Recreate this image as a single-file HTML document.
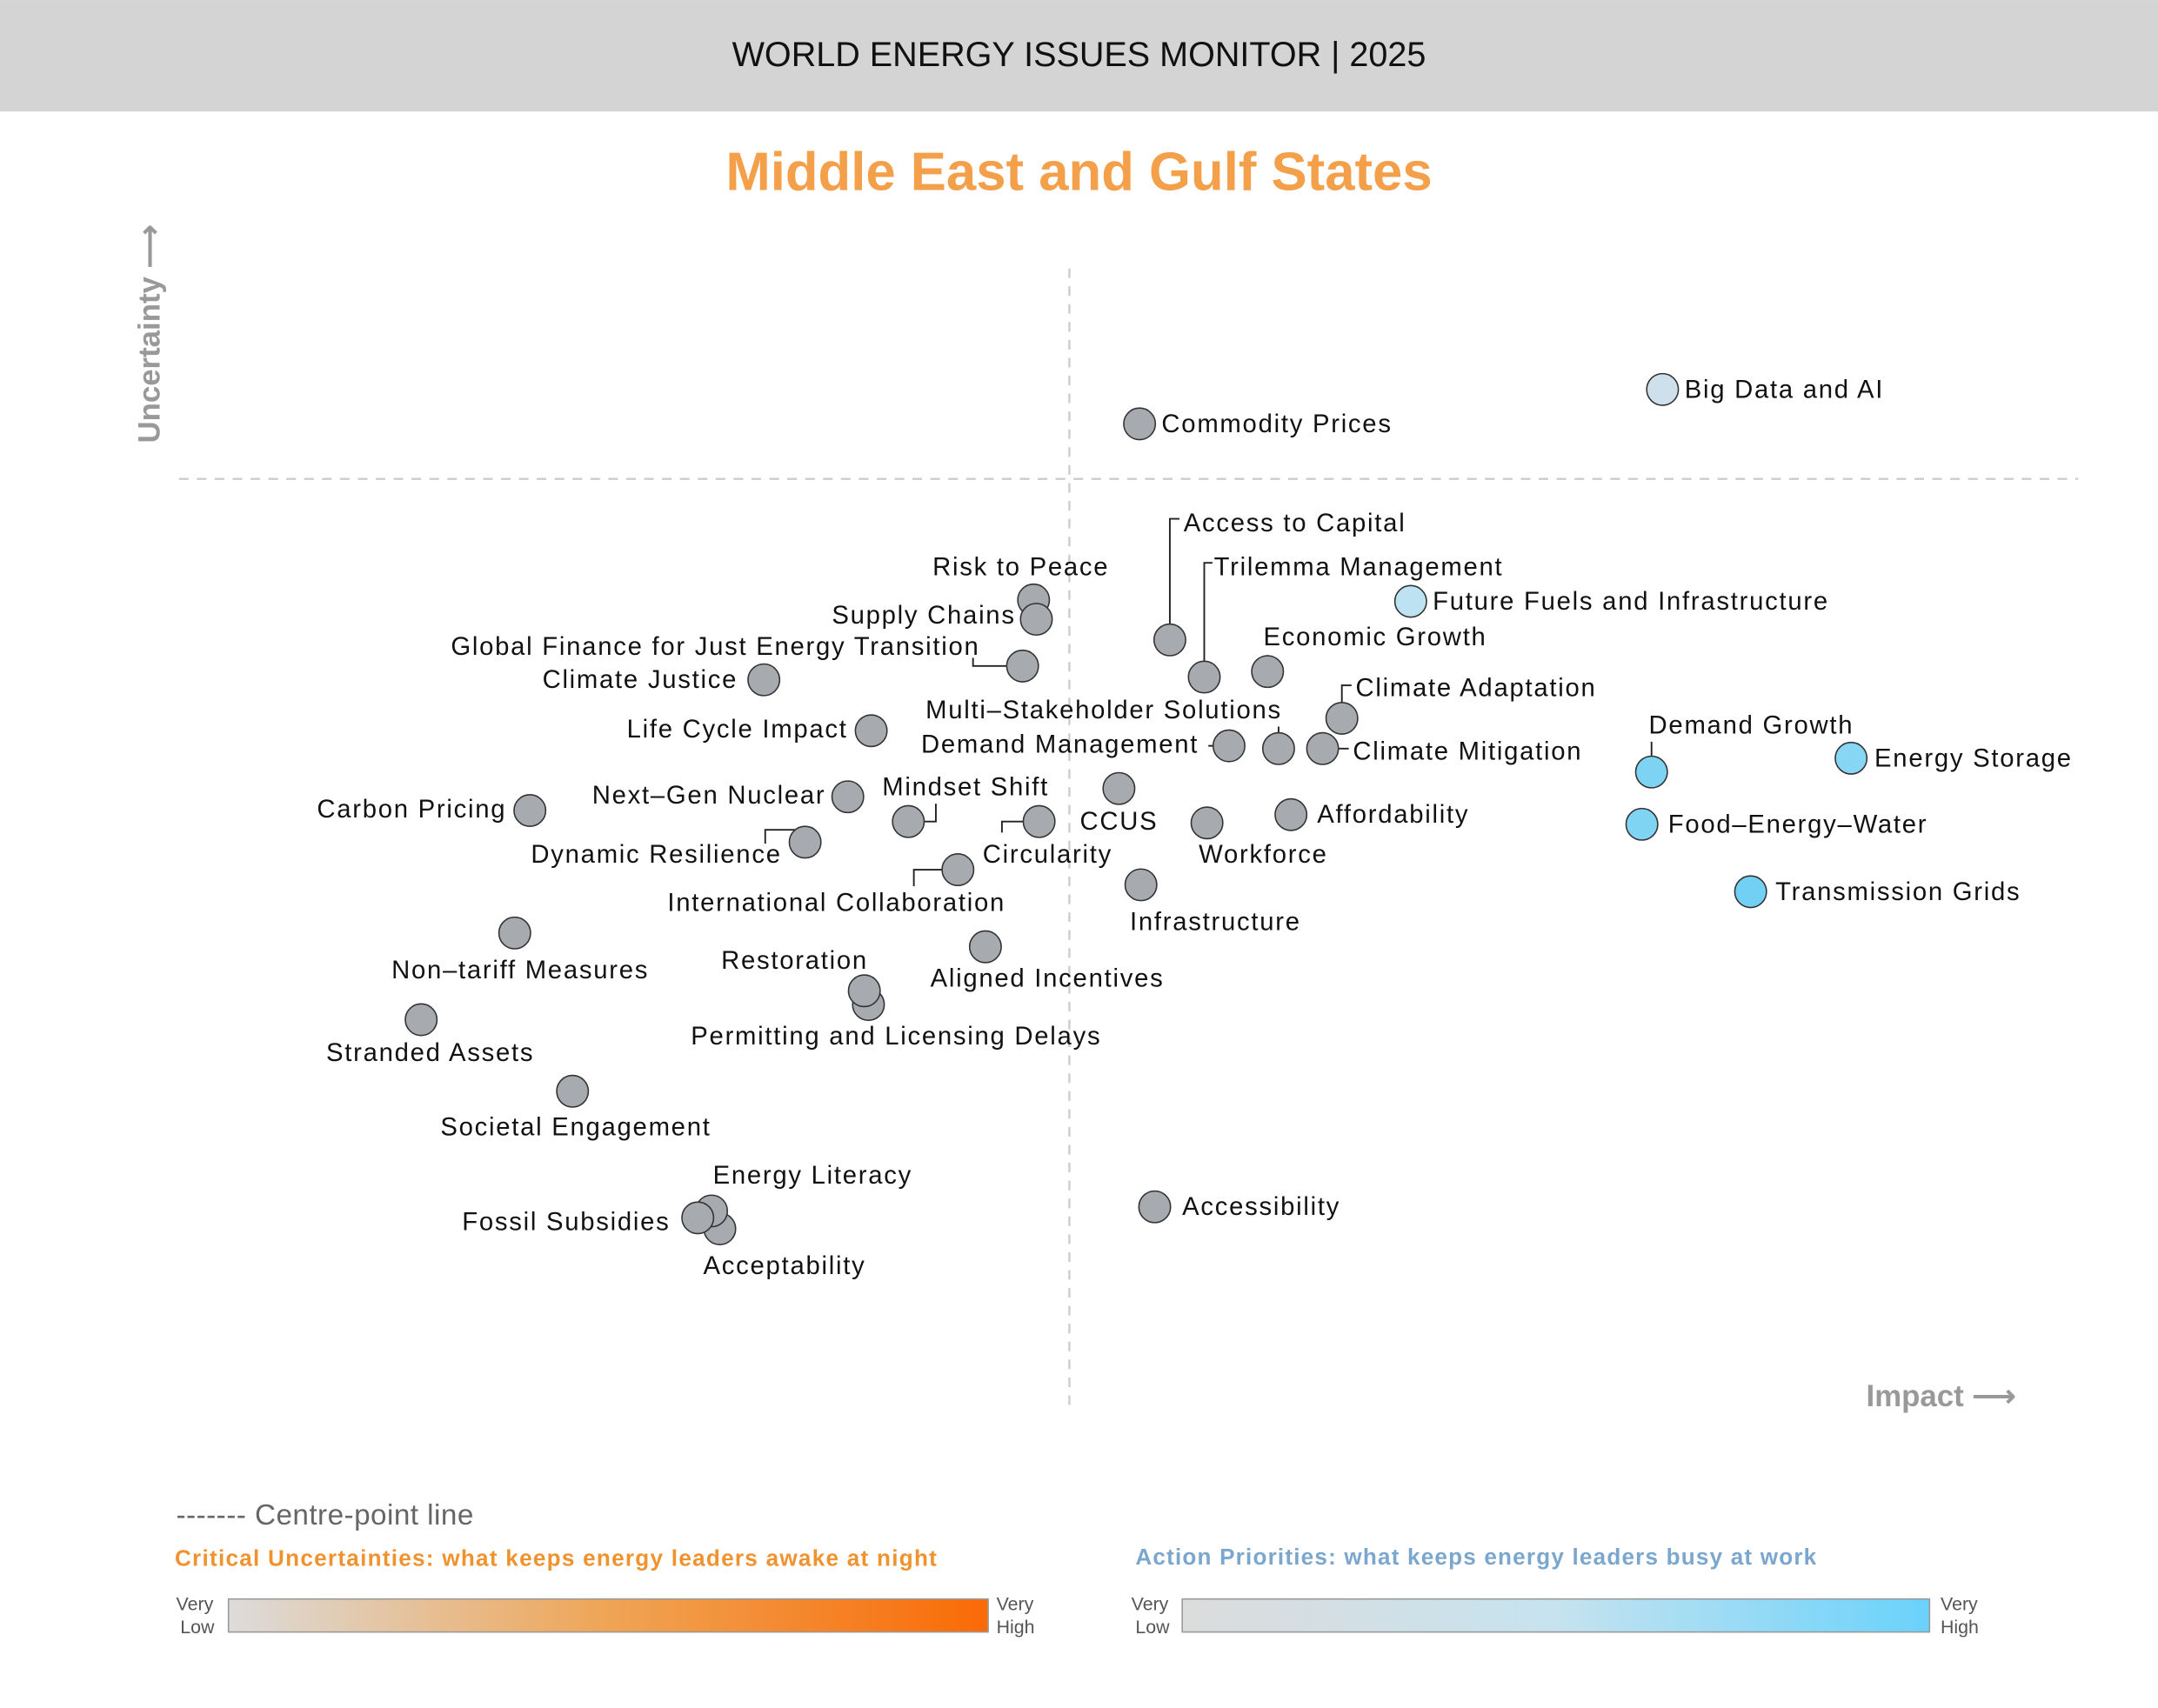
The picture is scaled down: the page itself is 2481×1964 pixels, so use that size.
<!DOCTYPE html>
<html><head><meta charset="utf-8"><style>
html,body{margin:0;padding:0;background:#fff;}
svg{display:block;}
text{font-family:"Liberation Sans",sans-serif;}
.l{font-size:18.5px;fill:#111;letter-spacing:1.1px;}
.c{stroke:#333;stroke-width:1;fill:#a7abaf;}
.ln{stroke:#222;stroke-width:1.2;fill:none;}
</style></head><body>
<svg width="2481" height="1964" viewBox="0 0 1568 1241.2" xmlns="http://www.w3.org/2000/svg">
<defs>
<linearGradient id="go" x1="0" x2="1"><stop offset="0" stop-color="#dcdcdc"/><stop offset="0.5" stop-color="#efa555"/><stop offset="1" stop-color="#fa6a06"/></linearGradient>
<linearGradient id="gb" x1="0" x2="1"><stop offset="0" stop-color="#dcdcdc"/><stop offset="0.5" stop-color="#c6e3ef"/><stop offset="1" stop-color="#6ad2fb"/></linearGradient>
</defs>
<rect x="0" y="0" width="1568" height="81" fill="#d4d4d4"/>
<text x="784" y="48" text-anchor="middle" font-size="25" fill="#111">WORLD ENERGY ISSUES MONITOR | 2025</text>
<text x="784" y="138" text-anchor="middle" font-size="39" font-weight="bold" fill="#f4a04b">Middle East and Gulf States</text>
<line x1="777" y1="195" x2="777" y2="1025" stroke="#ccc" stroke-width="1.5" stroke-dasharray="7,6"/>
<line x1="130" y1="348" x2="1510" y2="348" stroke="#ccc" stroke-width="1.5" stroke-dasharray="7,6"/>
<text transform="translate(116,322) rotate(-90)" font-size="22" font-weight="bold" fill="#999">Uncertainty ⟶</text>
<text x="1356" y="1022" font-size="22" font-weight="bold" fill="#999">Impact ⟶</text>

<path class="ln" d="M850,465 V377 H857"/>
<path class="ln" d="M875,492 V409 H881"/>
<path class="ln" d="M921,488 V476"/>
<path class="ln" d="M975,522 V498 H982"/>
<path class="ln" d="M961,544 H980"/>
<path class="ln" d="M929,544 V528"/>
<path class="ln" d="M893,542 H878"/>
<path class="ln" d="M1200,561 V539"/>
<path class="ln" d="M743,484 H707 V478"/>
<path class="ln" d="M660,597 H680 V584"/>
<path class="ln" d="M755,597 H728 V605"/>
<path class="ln" d="M585,603 H556 V613"/>
<path class="ln" d="M696,632 H664 V644"/>

<circle class="c" cx="1208" cy="283" r="11.5" style="fill:#cde0ec"/>
<circle class="c" cx="828" cy="308" r="11.5"/>
<circle class="c" cx="1025" cy="437" r="11.5" style="fill:#bde2f1"/>
<circle class="c" cx="850" cy="465" r="11.5"/>
<circle class="c" cx="875" cy="492" r="11.5"/>
<circle class="c" cx="921" cy="488" r="11.5"/>
<circle class="c" cx="975" cy="522" r="11.5"/>
<circle class="c" cx="961" cy="544" r="11.5"/>
<circle class="c" cx="929" cy="544" r="11.5"/>
<circle class="c" cx="893" cy="542" r="11.5"/>
<circle class="c" cx="1200" cy="561" r="11.5" style="fill:#7dd3f2"/>
<circle class="c" cx="1345" cy="551" r="11.5" style="fill:#86d6f4"/>
<circle class="c" cx="1193" cy="599" r="11.5" style="fill:#7fd4f3"/>
<circle class="c" cx="1272" cy="648" r="11.5" style="fill:#72d0f4"/>
<circle class="c" cx="751" cy="436" r="11.5"/>
<circle class="c" cx="753" cy="450" r="11.5"/>
<circle class="c" cx="743" cy="484" r="11.5"/>
<circle class="c" cx="555" cy="494" r="11.5"/>
<circle class="c" cx="633" cy="531" r="11.5"/>
<circle class="c" cx="385" cy="589" r="11.5"/>
<circle class="c" cx="616" cy="579" r="11.5"/>
<circle class="c" cx="660" cy="597" r="11.5"/>
<circle class="c" cx="813" cy="573" r="11.5"/>
<circle class="c" cx="755" cy="597" r="11.5"/>
<circle class="c" cx="877" cy="598" r="11.5"/>
<circle class="c" cx="938" cy="592" r="11.5"/>
<circle class="c" cx="585" cy="612" r="11.5"/>
<circle class="c" cx="696" cy="632" r="11.5"/>
<circle class="c" cx="829" cy="643" r="11.5"/>
<circle class="c" cx="374" cy="678" r="11.5"/>
<circle class="c" cx="716" cy="688" r="11.5"/>
<circle class="c" cx="631" cy="730" r="11.5"/>
<circle class="c" cx="628" cy="720" r="11.5"/>
<circle class="c" cx="306" cy="741" r="11.5"/>
<circle class="c" cx="416" cy="793" r="11.5"/>
<circle class="c" cx="523" cy="893" r="11.5"/>
<circle class="c" cx="517" cy="880" r="11.5"/>
<circle class="c" cx="507" cy="885" r="11.5"/>
<circle class="c" cx="839" cy="877" r="11.5"/>

<g>
<text class="l" x="1224" y="289">Big Data and AI</text>
<text class="l" x="844" y="314">Commodity Prices</text>
<text class="l" x="1041" y="443">Future Fuels and Infrastructure</text>
<text class="l" x="860" y="386">Access to Capital</text>
<text class="l" x="882" y="418">Trilemma Management</text>
<text class="l" x="918" y="469">Economic Growth</text>
<text class="l" x="985" y="506">Climate Adaptation</text>
<text class="l" x="983" y="552">Climate Mitigation</text>
<text class="l" x="802" y="522" text-anchor="middle">Multi–Stakeholder Solutions</text>
<text class="l" x="871" y="547" text-anchor="end">Demand Management</text>
<text class="l" x="1198" y="533">Demand Growth</text>
<text class="l" x="1362" y="557">Energy Storage</text>
<text class="l" x="1212" y="605">Food–Energy–Water</text>
<text class="l" x="1290" y="654">Transmission Grids</text>
<text class="l" x="806" y="418" text-anchor="end">Risk to Peace</text>
<text class="l" x="738" y="453" text-anchor="end">Supply Chains</text>
<text class="l" x="712" y="476" text-anchor="end">Global Finance for Just Energy Transition</text>
<text class="l" x="536" y="500" text-anchor="end">Climate Justice</text>
<text class="l" x="616" y="536" text-anchor="end">Life Cycle Impact</text>
<text class="l" x="368" y="594" text-anchor="end">Carbon Pricing</text>
<text class="l" x="600" y="584" text-anchor="end">Next–Gen Nuclear</text>
<text class="l" x="641" y="578">Mindset Shift</text>
<text class="l" x="813" y="603" text-anchor="middle">CCUS</text>
<text class="l" x="714" y="627">Circularity</text>
<text class="l" x="871" y="627">Workforce</text>
<text class="l" x="957" y="598">Affordability</text>
<text class="l" x="568" y="627" text-anchor="end">Dynamic Resilience</text>
<text class="l" x="485" y="662">International Collaboration</text>
<text class="l" x="821" y="676">Infrastructure</text>
<text class="l" x="378" y="711" text-anchor="middle">Non–tariff Measures</text>
<text class="l" x="676" y="717">Aligned Incentives</text>
<text class="l" x="524" y="704">Restoration</text>
<text class="l" x="502" y="759">Permitting and Licensing Delays</text>
<text class="l" x="237" y="771">Stranded Assets</text>
<text class="l" x="320" y="825">Societal Engagement</text>
<text class="l" x="518" y="860">Energy Literacy</text>
<text class="l" x="487" y="894" text-anchor="end">Fossil Subsidies</text>
<text class="l" x="511" y="926">Acceptability</text>
<text class="l" x="859" y="883">Accessibility</text>
</g>

<text x="128" y="1108" font-size="21" fill="#666" letter-spacing="0.3">------- Centre-point line</text>
<text x="127" y="1138" font-size="16.5" font-weight="bold" fill="#f0922e" letter-spacing="0.8">Critical Uncertainties: what keeps energy leaders awake at night</text>
<text x="825" y="1137" font-size="16.5" font-weight="bold" fill="#7ba7cf" letter-spacing="0.75">Action Priorities: what keeps energy leaders busy at work</text>
<rect x="166" y="1162" width="552" height="24" fill="url(#go)" stroke="#999" stroke-width="1"/>
<rect x="859" y="1162" width="543" height="24" fill="url(#gb)" stroke="#999" stroke-width="1"/>
<g font-size="13.5" fill="#555">
<text x="128" y="1170">Very</text><text x="131" y="1187">Low</text>
<text x="724" y="1170">Very</text><text x="724" y="1187">High</text>
<text x="822" y="1170">Very</text><text x="825" y="1187">Low</text>
<text x="1410" y="1170">Very</text><text x="1410" y="1187">High</text>
</g>
</svg>
</body></html>
